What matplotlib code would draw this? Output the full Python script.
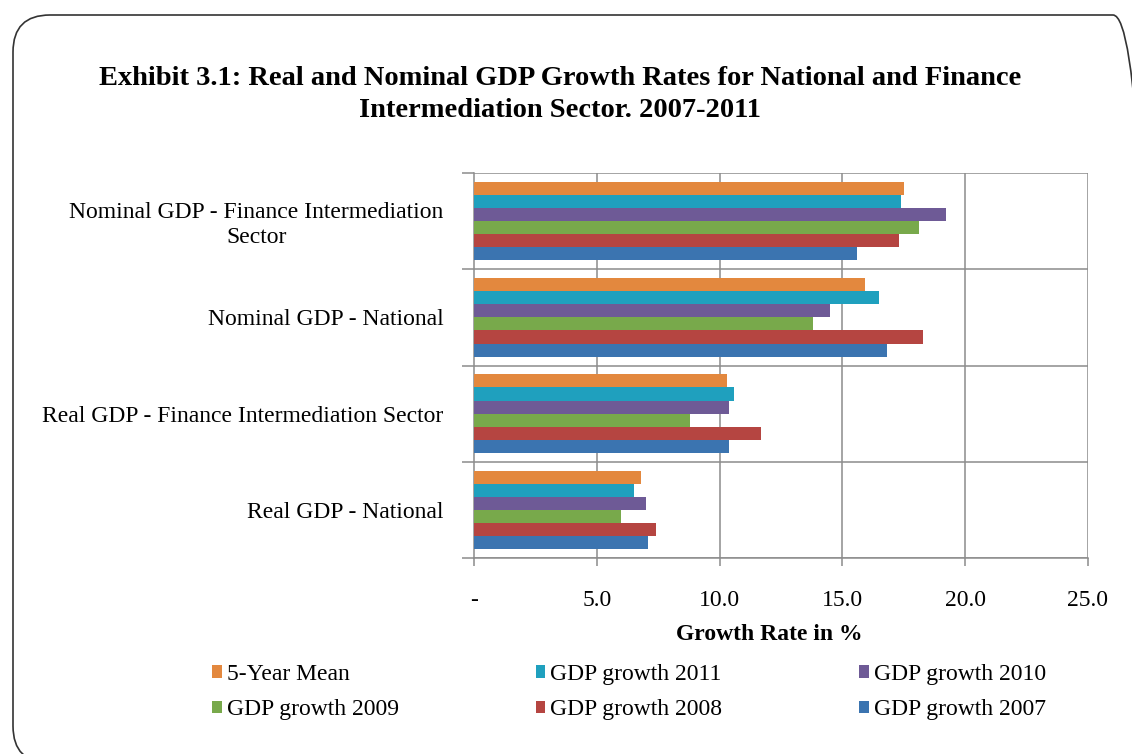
import matplotlib
matplotlib.use("Agg")
import matplotlib.pyplot as plt
from matplotlib.patches import FancyBboxPatch, Patch
from matplotlib.transforms import IdentityTransform
import numpy as np

plt.rcParams['font.family'] = ['Liberation Serif', 'DejaVu Serif']

categories = ["Nominal GDP - Finance Intermediation\nSector",
              "Nominal GDP - National",
              "Real GDP - Finance Intermediation Sector",
              "Real GDP - National"]
series_names = ["5-Year Mean", "GDP growth 2011", "GDP growth 2010",
                "GDP growth 2009", "GDP growth 2008", "GDP growth 2007"]
mean5 = [17.5, 15.9, 10.3, 6.8]
g2011 = [17.4, 16.5, 10.6, 6.5]
g2010 = [19.2, 14.5, 10.4, 7.0]
g2009 = [18.1, 13.8, 8.8, 6.0]
g2008 = [17.3, 18.3, 11.7, 7.4]
g2007 = [15.6, 16.8, 10.4, 7.1]
series_values = [mean5, g2011, g2010, g2009, g2008, g2007]
colors = ["#E3883E", "#1FA0BE", "#6E5A96", "#78A94B", "#B54541", "#3B74B0"]
xticks = [0, 5, 10, 15, 20, 25]
xtick_labels = ["-", "5.0", "10.0", "15.0", "20.0", "25.0"]

W, H = 1132, 754
fig = plt.figure(figsize=(W/100, H/100), dpi=100)
fig.patch.set_facecolor("white")

# rounded frame
frame = FancyBboxPatch((13, -9), 1137, 748, boxstyle="round,pad=0,rounding_size=37",
                       transform=IdentityTransform(), facecolor="none",
                       edgecolor="#333333", linewidth=1.2, zorder=-1)
fig.patches.append(frame)

ax_l, ax_r, ax_t, ax_b = 474, 1088, 172.7, 558.3
ax = fig.add_axes([ax_l/W, 1-ax_b/H, (ax_r-ax_l)/W, (ax_b-ax_t)/H])
ax.set_facecolor("none")
ax.set_zorder(2)

n = len(categories)
ypos = np.arange(n)[::-1].astype(float)
h = 0.136
for j, (name, vals, c) in enumerate(zip(series_names, series_values, colors)):
    ax.barh(ypos + (2.5 - j)*h, vals, height=h, color=c, label=name, zorder=3)

ax.set_xlim(0, 25)
ax.set_ylim(-0.5, n-0.5)
gridc = "#8C8C8C"
for x in xticks[1:]:
    ax.axvline(x, color=gridc, lw=1.1, zorder=1)
for b in np.arange(-0.5, n, 1.0):
    ax.axhline(b, color=gridc, lw=1.1, zorder=1)
for s in ["top", "right"]:
    ax.spines[s].set_visible(False)
for s in ["left", "bottom"]:
    ax.spines[s].set_color(gridc)
    ax.spines[s].set_linewidth(1.1)

ax.set_xticks(xticks)
ax.set_xticklabels(xtick_labels, fontsize=17)
ax.tick_params(axis="x", length=6, width=1.1, color=gridc, pad=17)

ax.set_yticks(np.arange(-0.5, n, 1.0))
ax.set_yticklabels([])
ax.tick_params(axis="y", which="major", length=9, width=1.1, color=gridc)
ax.set_yticks(ypos, minor=True)
ax.set_yticklabels(categories, minor=True, fontsize=17, multialignment="center")
ax.tick_params(axis="y", which="minor", length=0, pad=22)

fig.text(769/W, 1-635/H, "Growth Rate in %", fontsize=17, fontweight="bold",
         ha="center", va="center")

fig.text(560/W, 1-85/H, "Exhibit 3.1: Real and Nominal GDP Growth Rates for National and Finance",
         fontsize=20.5, fontweight="bold", ha="center", va="baseline")
fig.text(560/W, 1-117/H, "Intermediation Sector. 2007-2011",
         fontsize=20.5, fontweight="bold", ha="center", va="baseline")

# legend, filled column-major
order = [0, 3, 1, 4, 2, 5]
handles = [Patch(facecolor=colors[i], edgecolor="none") for i in order]
labels = [series_names[i] for i in order]
fig.legend(handles, labels, ncol=3, loc="upper left",
           bbox_to_anchor=(212/W, 1-664/H), frameon=False, fontsize=17,
           handlelength=0.42, handleheight=0.42, handletextpad=0.2,
           columnspacing=5.8, labelspacing=0.6, borderpad=0, borderaxespad=0)

fig.savefig("out.png", dpi=100, facecolor="white")
